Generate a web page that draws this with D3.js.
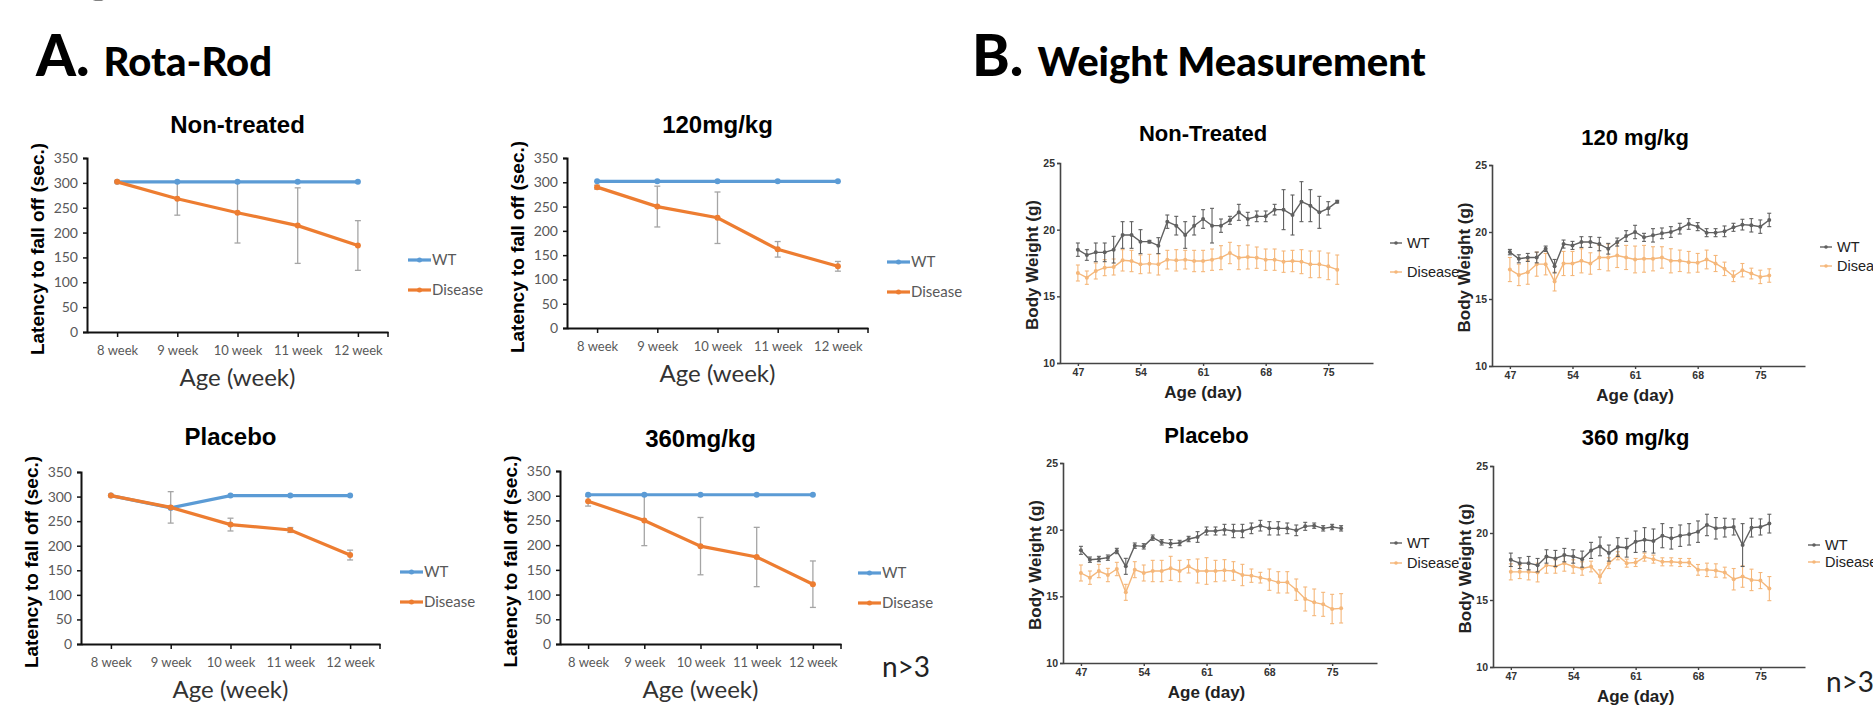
<!DOCTYPE html>
<html>
<head>
<meta charset="utf-8">
<script src="https://cdn.jsdelivr.net/npm/d3@7"></script>
<style>
  body { margin: 0; background: #fff; }
  svg { display: block; }
</style>
</head>
<body>
<script>
// ---------------- data: A. Rota-Rod ----------------
var weeks = ['8 week', '9 week', '10 week', '11 week', '12 week'];

var ntWT = [302, 302, 302, 302, 302];
var ntDis = [302, 268, 240, 214, 174];
var ntDisErr = [0, 33, 61, 76, 50];

var m120WT = [302, 302, 302, 302, 302];
var m120Dis = [290, 250, 227, 162, 127];
var m120DisErr = [4, 42, 53, 16, 10];

var plWT = [302, 277, 302, 302, 302];
var plDis = [302, 278, 243, 232, 181];
var plDisErr = [0, 32, 13, 5, 10];

var m360WT = [302, 302, 302, 302, 302];
var m360Dis = [289, 250, 198, 176, 121];
var m360DisErr = [10, 51, 58, 60, 47];

var latencyTicks = [0, 50, 100, 150, 200, 250, 300, 350];

// ---------------- data: B. Weight ----------------
var days = [47, 48, 49, 50, 51, 52, 53, 54, 55, 56, 57, 58, 59, 60, 61,
            62, 63, 64, 65, 66, 67, 68, 69, 70, 71, 72, 73, 74, 75, 76];
var dayTicks = [47, 54, 61, 68, 75];
var weightTicks = [10, 15, 20, 25];

var wNtWT = [18.5, 18.1, 18.3, 18.3, 18.5, 19.6, 19.6, 19.1, 19.1, 18.8, 20.6, 20.3, 19.6, 20.3, 20.8,
             20.3, 20.3, 20.7, 21.3, 20.8, 21.0, 21.0, 21.5, 21.5, 21.1, 22.1, 21.8, 21.3, 21.6, 22.1];
var wNtWTErr = [0.5, 0.4, 0.7, 0.7, 1.0, 1.0, 1.0, 0.9, 0.1, 0.6, 0.5, 0.7, 1.0, 0.7, 0.7,
                1.3, 0.5, 0.3, 0.6, 0.5, 0.4, 0.4, 0.4, 1.5, 1.5, 1.5, 1.2, 1.2, 0.5, 0.1];
var wNtDis = [16.75, 16.4, 16.9, 17.15, 17.2, 17.7, 17.65, 17.4, 17.45, 17.4, 17.75, 17.7, 17.75, 17.65, 17.65,
              17.75, 17.9, 18.25, 17.9, 17.95, 17.9, 17.75, 17.75, 17.6, 17.65, 17.6, 17.4, 17.4, 17.25, 17.0];
var wNtDisErr = [0.6, 0.5, 0.6, 0.6, 0.6, 0.8, 0.8, 0.7, 0.7, 0.8, 0.7, 0.8, 0.7, 0.8, 0.8,
                 0.8, 0.9, 0.8, 0.9, 0.9, 0.8, 0.8, 0.8, 0.8, 0.8, 0.9, 1.0, 1.0, 1.0, 1.1];

var w120WT = [18.5, 18.0, 18.1, 18.1, 18.75, 17.45, 19.1, 19.0, 19.25, 19.25, 19.1, 18.75, 19.25, 19.7, 20.0,
              19.6, 19.75, 19.9, 20.0, 20.25, 20.6, 20.4, 19.95, 19.95, 20.05, 20.35, 20.55, 20.5, 20.4, 20.9];
var w120WTErr = [0.2, 0.3, 0.3, 0.4, 0.2, 0.5, 0.3, 0.3, 0.4, 0.4, 0.5, 0.4, 0.3, 0.4, 0.5,
                 0.3, 0.5, 0.4, 0.4, 0.4, 0.4, 0.3, 0.3, 0.3, 0.4, 0.3, 0.4, 0.5, 0.5, 0.5];
var w120Dis = [17.2, 16.8, 17.0, 17.6, 17.6, 16.3, 17.65, 17.65, 17.85, 17.65, 18.1, 18.1, 18.25, 18.1, 17.95,
               18.0, 18.0, 18.1, 17.85, 17.85, 17.75, 17.7, 17.95, 17.65, 17.25, 16.7, 17.15, 16.9, 16.65, 16.75];
var w120DisErr = [0.9, 0.8, 0.9, 0.9, 0.8, 0.7, 0.9, 0.9, 0.9, 0.8, 0.9, 1.0, 0.9, 0.9, 1.0,
                  1.0, 0.9, 0.8, 0.9, 0.8, 0.8, 0.7, 0.7, 0.6, 0.5, 0.4, 0.5, 0.4, 0.5, 0.5];

var wPlWT = [18.45, 17.75, 17.8, 17.9, 18.4, 17.25, 18.8, 18.75, 19.4, 19.05, 18.95, 19.0, 19.3, 19.45, 19.9,
             19.9, 20.0, 19.9, 19.9, 20.1, 20.3, 20.1, 20.1, 20.1, 19.95, 20.25, 20.3, 20.1, 20.2, 20.1];
var wPlWTErr = [0.3, 0.2, 0.2, 0.2, 0.2, 0.6, 0.2, 0.2, 0.2, 0.2, 0.3, 0.2, 0.2, 0.4, 0.3,
                0.3, 0.4, 0.5, 0.5, 0.4, 0.4, 0.5, 0.5, 0.4, 0.4, 0.3, 0.2, 0.2, 0.2, 0.2];
var wPlDis = [16.75, 16.4, 16.9, 16.6, 17.05, 15.3, 17.0, 16.75, 16.9, 16.9, 17.1, 16.9, 17.25, 16.9, 16.9,
              16.9, 16.95, 16.9, 16.6, 16.55, 16.4, 16.25, 16.05, 16.05, 15.5, 14.8, 14.55, 14.4, 14.05, 14.1];
var wPlDisErr = [0.6, 0.5, 0.5, 0.5, 0.5, 0.6, 0.6, 0.6, 0.8, 0.8, 0.9, 0.8, 0.5, 0.9, 1.0,
                 0.8, 0.8, 0.7, 0.8, 0.5, 0.4, 0.8, 0.8, 0.8, 0.8, 0.9, 1.0, 0.9, 1.1, 1.1];

var w360WT = [18.0, 17.75, 17.75, 17.6, 18.25, 18.1, 18.35, 18.25, 18.05, 18.7, 19.0, 18.5, 18.95, 18.9, 19.35,
              19.5, 19.4, 19.8, 19.6, 19.8, 19.9, 20.1, 20.6, 20.35, 20.4, 20.45, 19.1, 20.4, 20.45, 20.7];
var w360WTErr = [0.5, 0.4, 0.5, 0.5, 0.5, 0.6, 0.5, 0.5, 0.6, 0.6, 0.7, 0.6, 0.7, 0.7, 0.8,
                 0.9, 0.9, 0.9, 0.8, 0.8, 0.8, 0.8, 0.8, 0.8, 0.7, 0.6, 1.6, 0.7, 0.6, 0.7];
var w360Dis = [17.1, 17.1, 17.1, 17.05, 17.6, 17.5, 17.75, 17.5, 17.35, 17.5, 16.75, 17.75, 18.3, 17.75, 17.8,
               18.2, 18.05, 17.85, 17.85, 17.8, 17.8, 17.25, 17.25, 17.2, 17.05, 16.55, 16.75, 16.5, 16.45, 15.85];
var w360DisErr = [0.6, 0.5, 0.6, 0.7, 0.6, 0.5, 0.6, 0.5, 0.5, 0.4, 0.5, 0.4, 0.3, 0.3, 0.3,
                  0.3, 0.3, 0.3, 0.3, 0.3, 0.3, 0.4, 0.5, 0.5, 0.4, 0.8, 0.8, 0.8, 0.6, 0.9];

// ---------------- layout ----------------
var W = 1873, H = 708;
var blue = '#5B9BD5', orange = '#ED7D31', errGrey = '#A5A5A5';
var wtGrey = '#606060', disLight = '#F5B77A';
var calibri = 'Lato, "Open Sans", sans-serif';
var arial = '"Liberation Sans", Arial, sans-serif';

var svg = d3.select('body').append('svg').attr('width', W).attr('height', H);

// remnant of figure heading, cut off at top
svg.append('text').attr('x', 38).attr('y', -9).attr('font-family', calibri)
	.attr('font-weight', 900).attr('font-size', 56).attr('fill', '#000').text('Figure 5');

// section headings
function heading(x, letter, label) {
	var t = svg.append('text').attr('x', x).attr('y', 76).attr('font-family', calibri)
		.attr('font-weight', 900).attr('fill', '#000');
	t.append('tspan').attr('font-size', 57).text(letter);
	t.append('tspan').attr('font-size', 40).attr('dx', 14).text(label);
}
heading(36, 'A.', 'Rota-Rod');
heading(972, 'B.', 'Weight Measurement');

// ---------------- rota-rod panels ----------------
var rotaPanels = [
	{title: 'Non-treated', wt: ntWT, dis: ntDis, err: ntDisErr, x0: 87, x1: 388, top: 158, bottom: 332, ty: 133, lx: 408, ly: 260},
	{title: '120mg/kg', wt: m120WT, dis: m120Dis, err: m120DisErr, x0: 567, x1: 868, top: 158, bottom: 328, ty: 133, lx: 887, ly: 262},
	{title: 'Placebo', wt: plWT, dis: plDis, err: plDisErr, x0: 81, x1: 380, top: 472, bottom: 644, ty: 445, lx: 400, ly: 572},
	{title: '360mg/kg', wt: m360WT, dis: m360Dis, err: m360DisErr, x0: 560, x1: 841, top: 471, bottom: 644, ty: 447, lx: 858, ly: 573}
];

rotaPanels.forEach(function(p) {
	var g = svg.append('g');
	var x = d3.scalePoint().domain(weeks).range([p.x0, p.x1]).padding(0.5);
	var y = d3.scaleLinear().domain([0, 350]).range([p.bottom, p.top]);

	g.append('text').attr('x', (p.x0 + p.x1) / 2).attr('y', p.ty).attr('text-anchor', 'middle')
		.attr('font-family', arial).attr('font-weight', 'bold').attr('font-size', 24).text(p.title);

	// y axis
	var ya = g.append('g').attr('transform', 'translate(' + p.x0 + ',0)')
		.call(d3.axisLeft(y).tickValues(latencyTicks).tickSize(4).tickPadding(5));
	ya.select('.domain').attr('stroke', '#111').attr('stroke-width', 2);
	ya.selectAll('line').attr('stroke', '#111').attr('stroke-width', 1.5);
	ya.selectAll('text').attr('font-family', calibri).attr('font-size', 14).attr('fill', '#595959');

	// x axis
	var xa = g.append('g').attr('transform', 'translate(0,' + p.bottom + ')')
		.call(d3.axisBottom(x).tickSize(5).tickSizeOuter(0).tickPadding(9));
	xa.select('.domain').attr('stroke', '#111').attr('stroke-width', 2);
	xa.selectAll('line').attr('stroke', '#111').attr('stroke-width', 1.5);
	xa.selectAll('text').attr('font-family', calibri).attr('font-size', 13).attr('fill', '#595959');
	g.append('line').attr('x1', p.x1).attr('x2', p.x1).attr('y1', p.bottom).attr('y2', p.bottom + 5)
		.attr('stroke', '#111').attr('stroke-width', 1.5);

	g.append('text').attr('transform', 'translate(' + (p.x0 - 43) + ',' + ((p.top + p.bottom) / 2 + 4) + ') rotate(-90)')
		.attr('text-anchor', 'middle').attr('font-family', arial).attr('font-weight', 'bold')
		.attr('font-size', 19).text('Latency to fall off (sec.)');
	g.append('text').attr('x', (p.x0 + p.x1) / 2).attr('y', p.bottom + 54).attr('text-anchor', 'middle')
		.attr('font-family', calibri).attr('font-size', 24).attr('fill', '#333').text('Age (week)');

	// error bars
	var eb = g.append('g').attr('stroke', errGrey).attr('stroke-width', 1.3);
	weeks.forEach(function(w, i) {
		if (!p.err[i]) return;
		var cx = x(w), lo = y(p.dis[i] - p.err[i]), hi = y(p.dis[i] + p.err[i]);
		eb.append('line').attr('x1', cx).attr('x2', cx).attr('y1', lo).attr('y2', hi);
		eb.append('line').attr('x1', cx - 3).attr('x2', cx + 3).attr('y1', lo).attr('y2', lo);
		eb.append('line').attr('x1', cx - 3).attr('x2', cx + 3).attr('y1', hi).attr('y2', hi);
	});

	[[p.wt, blue], [p.dis, orange]].forEach(function(s) {
		var line = d3.line().x(function(d, i) { return x(weeks[i]); }).y(function(d) { return y(d); });
		g.append('path').datum(s[0]).attr('d', line).attr('fill', 'none')
			.attr('stroke', s[1]).attr('stroke-width', 3.2);
		g.selectAll(null).data(s[0]).enter().append('circle')
			.attr('cx', function(d, i) { return x(weeks[i]); }).attr('cy', function(d) { return y(d); })
			.attr('r', 3).attr('fill', s[1]);
	});

	// legend
	[['WT', blue, p.ly], ['Disease', orange, p.ly + 30]].forEach(function(l) {
		g.append('line').attr('x1', p.lx).attr('x2', p.lx + 23).attr('y1', l[2]).attr('y2', l[2])
			.attr('stroke', l[1]).attr('stroke-width', 3.2);
		g.append('circle').attr('cx', p.lx + 11.5).attr('cy', l[2]).attr('r', 2.5).attr('fill', l[1]);
		g.append('text').attr('x', p.lx + 24).attr('y', l[2] + 5).attr('font-family', calibri)
			.attr('font-size', 15).attr('fill', '#595959').text(l[0]);
	});
});

svg.append('text').attr('x', 882).attr('y', 677).attr('font-family', calibri)
	.attr('font-size', 28).attr('fill', '#222').text('n>3');

// ---------------- weight panels ----------------
var weightPanels = [
	{title: 'Non-Treated', wt: wNtWT, wtErr: wNtWTErr, dis: wNtDis, disErr: wNtDisErr, x0: 1060, x1: 1373, top: 163, bottom: 363, ty: 141, lx: 1390, ly: [243, 272]},
	{title: '120 mg/kg', wt: w120WT, wtErr: w120WTErr, dis: w120Dis, disErr: w120DisErr, x0: 1492, x1: 1805, top: 165, bottom: 366, ty: 145, lx: 1820, ly: [247, 266]},
	{title: 'Placebo', wt: wPlWT, wtErr: wPlWTErr, dis: wPlDis, disErr: wPlDisErr, x0: 1063, x1: 1377, top: 463, bottom: 663, ty: 443, lx: 1390, ly: [543, 563]},
	{title: '360 mg/kg', wt: w360WT, wtErr: w360WTErr, dis: w360Dis, disErr: w360DisErr, x0: 1493, x1: 1805, top: 466, bottom: 667, ty: 445, lx: 1808, ly: [545, 562]}
];

weightPanels.forEach(function(p) {
	var g = svg.append('g');
	var x = d3.scaleLinear().domain([45, 80]).range([p.x0, p.x1]);
	var y = d3.scaleLinear().domain([10, 25]).range([p.bottom, p.top]);

	g.append('text').attr('x', x(61)).attr('y', p.ty).attr('text-anchor', 'middle')
		.attr('font-family', arial).attr('font-weight', 'bold').attr('font-size', 22).text(p.title);

	var ya = g.append('g').attr('transform', 'translate(' + p.x0 + ',0)')
		.call(d3.axisLeft(y).tickValues(weightTicks).tickSize(3).tickPadding(2));
	ya.select('.domain').attr('stroke', '#444').attr('stroke-width', 1.6);
	ya.selectAll('line').attr('stroke', '#444').attr('stroke-width', 1.4);
	ya.selectAll('text').attr('font-family', arial).attr('font-weight', 'bold').attr('font-size', 10.5).attr('fill', '#333');

	var xa = g.append('g').attr('transform', 'translate(0,' + p.bottom + ')')
		.call(d3.axisBottom(x).tickValues(dayTicks).tickSize(3).tickSizeOuter(0).tickPadding(3));
	xa.select('.domain').attr('stroke', '#444').attr('stroke-width', 1.6);
	xa.selectAll('line').attr('stroke', '#444').attr('stroke-width', 1.4);
	xa.selectAll('text').attr('font-family', arial).attr('font-weight', 'bold').attr('font-size', 10.5).attr('fill', '#333');

	g.append('text').attr('x', x(61)).attr('y', p.bottom + 35).attr('text-anchor', 'middle')
		.attr('font-family', arial).attr('font-weight', 'bold').attr('font-size', 17).attr('fill', '#222').text('Age (day)');

	var series = [[p.dis, p.disErr, disLight], [p.wt, p.wtErr, wtGrey]];
	series.forEach(function(s) {
		var vals = s[0], errs = s[1], c = s[2];
		var eb = g.append('g').attr('stroke', c).attr('stroke-width', 1.1);
		days.forEach(function(d, i) {
			var cx = x(d), lo = y(vals[i] - errs[i]), hi = y(vals[i] + errs[i]);
			eb.append('line').attr('x1', cx).attr('x2', cx).attr('y1', lo).attr('y2', hi);
			eb.append('line').attr('x1', cx - 2).attr('x2', cx + 2).attr('y1', lo).attr('y2', lo);
			eb.append('line').attr('x1', cx - 2).attr('x2', cx + 2).attr('y1', hi).attr('y2', hi);
		});
		var line = d3.line().x(function(d, i) { return x(days[i]); }).y(function(d) { return y(d); });
		g.append('path').datum(vals).attr('d', line).attr('fill', 'none').attr('stroke', c).attr('stroke-width', 1.4);
		g.selectAll(null).data(vals).enter().append('circle')
			.attr('cx', function(d, i) { return x(days[i]); }).attr('cy', function(d) { return y(d); })
			.attr('r', 2).attr('fill', c);
	});

	[['WT', wtGrey, p.ly[0]], ['Disease', disLight, p.ly[1]]].forEach(function(l) {
		g.append('line').attr('x1', p.lx).attr('x2', p.lx + 12).attr('y1', l[2]).attr('y2', l[2])
			.attr('stroke', l[1]).attr('stroke-width', 1.4);
		g.append('circle').attr('cx', p.lx + 6).attr('cy', l[2]).attr('r', 1.8).attr('fill', l[1]);
		g.append('text').attr('x', p.lx + 17).attr('y', l[2] + 5).attr('font-family', arial)
			.attr('font-size', 14.5).attr('fill', '#222').text(l[0]);
	});

	g.append('text').attr('transform', 'translate(' + (p.x0 - 22) + ',' + ((p.top + p.bottom) / 2 + 2) + ') rotate(-90)')
		.attr('text-anchor', 'middle').attr('font-family', arial).attr('font-weight', 'bold')
		.attr('font-size', 17).attr('fill', '#222').text('Body Weight (g)');
});

svg.append('text').attr('x', 1826).attr('y', 692).attr('font-family', calibri)
	.attr('font-size', 28).attr('fill', '#222').text('n>3');
</script>
</body>
</html>
